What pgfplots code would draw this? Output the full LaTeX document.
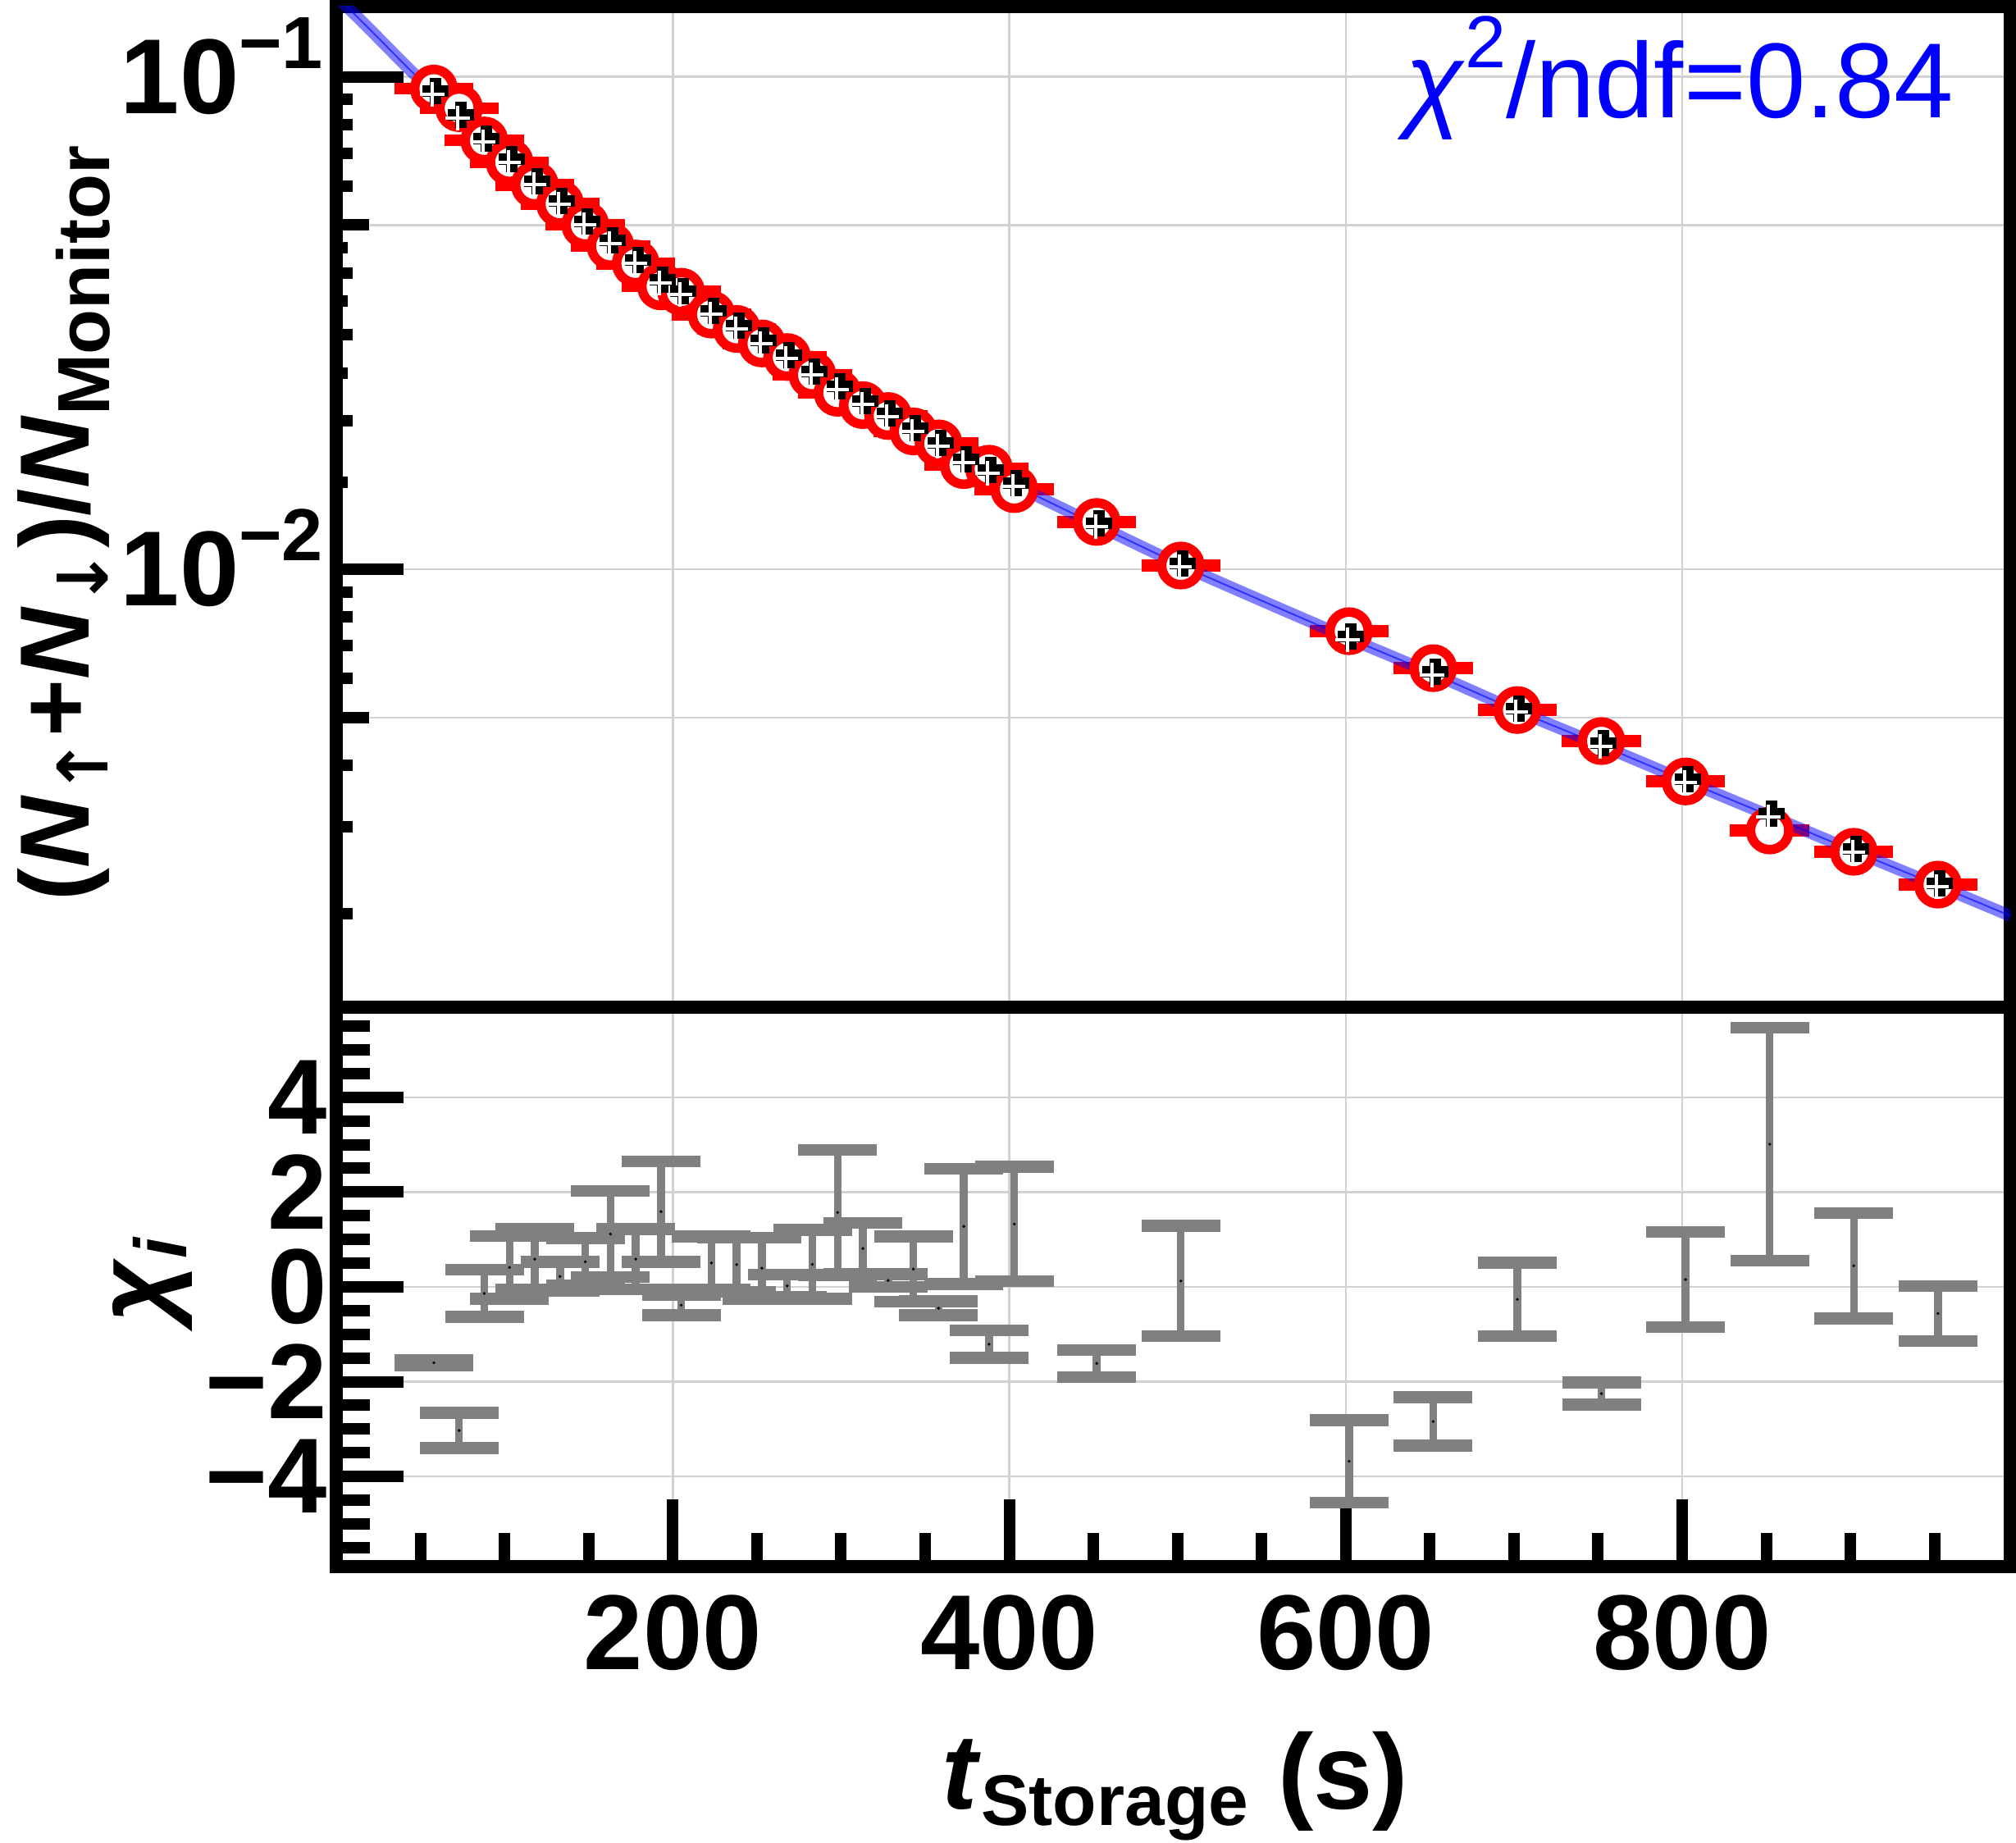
\documentclass[border=0pt]{standalone}
\usepackage{fontspec}
\setmainfont{Liberation Sans}
\newfontfamily\arrowfont{DejaVu Sans}
\usepackage{pgfplots}
\pgfplotsset{compat=1.18}
\usepackage{pgfplotstable}

\pgfplotstableread{
x c
58 0.09465
73 0.08638
88 0.07427
103 0.06707
118 0.06037
133 0.05523
148 0.05005
163 0.04534
178 0.04178
193 0.03754
205 0.03661
223 0.03291
238 0.03077
253 0.02875
268 0.02698
283 0.02483
298 0.02283
313 0.02155
328 0.02048
343 0.01906
358 0.01802
373 0.01628
388 0.01601
403 0.01455
452 0.01248
502 0.01018
602 0.00749
652 0.00630
702 0.00518
752 0.00448
802 0.00371
852 0.00295
902 0.00267
952 0.00229
}\circdata

\pgfplotstableread{
x f
58 0.09257
73 0.08284
88 0.07413
103 0.06745
118 0.06086
133 0.05540
148 0.05042
163 0.04605
178 0.04212
193 0.03837
205 0.03641
223 0.03314
238 0.03097
253 0.02891
268 0.02699
283 0.02500
298 0.02333
313 0.02179
328 0.02052
343 0.01916
358 0.01791
373 0.01657
388 0.01574
403 0.01483
452 0.01230
502 0.01019
602 0.00724
652 0.00614
702 0.00516
752 0.00439
802 0.00372
852 0.00316
902 0.00268
952 0.00228
}\crossdata

\pgfplotstableread{
x f
0 0.1459
20 0.1248
40 0.1064
58 0.09257
88 0.07413
118 0.06086
148 0.05042
178 0.04212
205 0.03641
238 0.03097
268 0.02699
298 0.02333
328 0.02052
358 0.01791
388 0.01574
403 0.01483
452 0.01230
502 0.01019
552 0.00858
602 0.00724
652 0.00614
702 0.00516
752 0.00439
802 0.00372
852 0.00316
902 0.00268
952 0.00228
995 0.00198
}\fitdata

\pgfplotstableread{
x c e
58 -1.6 0.05
73 -3.03 0.37
88 -0.1375 0.4975
103 0.41 0.66
118 0.585 0.635
133 0.22 0.31
148 0.53 0.50
163 1.115 0.905
178 0.585 0.635
193 1.5875 1.0625
205 -0.385 0.215
223 0.505 0.555
238 0.47 0.57
253 0.395 0.645
268 0.02 0.24
283 0.475 0.725
298 1.57 1.32
313 0.81 0.54
328 0.135 0.135
343 0.375 0.685
358 -0.45 0.15
373 1.275 1.215
388 -1.21 0.29
403 1.325 1.205
452 -1.615 0.285
502 0.125 1.165
602 -3.68 0.87
652 -2.84 0.51
702 -0.265 0.775
752 -2.25 0.23
802 0.155 1.005
852 3.01 2.46
902 0.445 1.115
952 -0.56 0.58
}\resdata

\newcommand{\ticklab}{\fontsize{26}{30}\selectfont\bfseries}
\newcommand{\suplab}[1]{10\smash{\raisebox{11pt}{\fontsize{18}{20}\selectfont\bfseries #1}}}

\begin{document}
\begin{tikzpicture}
\pgfplotsset{
  common/.style={
    scale only axis, width=408.2pt,
    xmin=0, xmax=995,
    axis line style={line width=3.2pt, black},
    tick style={line width=2.8pt, black},
    major tick length=16.4pt,
    tick align=inside,
    xtick={200,400,600,800},
    grid=major,
    major grid style={line width=0.5pt, black!18},
    xtick pos=bottom, ytick pos=left,
    tick label style={font=\ticklab},
  }
}
\begin{axis}[common, name=bot, at={(0pt,0pt)}, anchor=south west, height=136.4pt,
  ymin=-5.9, ymax=5.9,
  ytick={-4,-2,0,2,4}, yticklabels={−4,−2,0,2,4},
  minor xtick={50,100,150,250,300,350,450,500,550,650,700,750,850,900,950},
  minor ytick={-5.5,-5,-4.5,-3.5,-3,-2.5,-1.5,-1,-0.5,0.5,1,1.5,2.5,3,3.5,4.5,5,5.5},
  minor tick length=8.2pt,
  xticklabels={200,400,600,800},
  xticklabel style={anchor=north, inner sep=0pt, yshift=-6.8pt},
  yticklabel style={anchor=east, inner sep=0pt, xshift=-2pt},
]
\addplot[only marks, mark=*, mark size=0.1pt, mark options={draw=none, fill=none},
  error bars/.cd, y dir=both, y explicit, error mark=-,
  error bar style={line width=1.9pt, color=gray},
  error mark options={rotate=90, line width=2.9pt, mark size=9.6pt, color=gray}]
  table[x=x, y=c, y error=e] {\resdata};
\end{axis}

% medium ticks at 0.05 and 0.005 (left side only)
\begin{scope}
\clip (-20pt,136.4pt) rectangle (150pt,380.4pt);
\begin{axis}[scale only axis, width=408.2pt, height=244pt, at={(0pt,136.4pt)}, anchor=south west,
  xmin=0, xmax=995, ymode=log, ymin=0.001291, ymax=0.1389,
  axis line style={draw=none},
  xtick=\empty, ytick={0.005,0.05}, yticklabels={},
  ytick pos=left, tick align=inside,
  major tick length=8pt, tick style={line width=2.8pt, black},
]
\end{axis}
\end{scope}

\begin{axis}[common, name=top, at={(0pt,136.4pt)}, anchor=south west, height=244pt,
  ymode=log, ymin=0.001291, ymax=0.1389,
  xmajorticks=false, xticklabels={},
  ytick={0.01,0.1},
  yticklabels={\suplab{−2},\suplab{−1}},
  minor ytick={0.002,0.003,0.004,0.006,0.007,0.008,0.009,0.02,0.03,0.04,0.06,0.07,0.08,0.09},
  minor tick length=4pt,
  yticklabel style={anchor=east, inner sep=0pt, xshift=-3pt},
]
\addplot[forget plot, line width=0.5pt, black!18] coordinates {(20,0.05) (991,0.05)};
\addplot[forget plot, line width=0.5pt, black!18] coordinates {(20,0.005) (991,0.005)};
\addplot[only marks, mark=*, mark size=0.1pt, mark options={draw=none, fill=none},
  error bars/.cd, x dir=both, x fixed=23.5, error mark=none,
  error bar style={line width=2.9pt, color=red}]
  table[x=x, y=c] {\circdata};
\addplot[only marks, mark=*, mark size=4.67pt, mark options={draw=red, fill=white, line width=2.3pt}]
  table[x=x, y=c] {\circdata};
\addplot[only marks, mark=+, mark size=3.2pt, mark options={draw=black, line width=2.8pt, xshift=0.5pt, yshift=0.5pt}]
  table[x=x, y=f] {\crossdata};
\addplot[only marks, mark=+, mark size=3pt, mark options={draw=white, line width=0.8pt, xshift=-0.3pt, yshift=-0.3pt}]
  table[x=x, y=f] {\crossdata};
\addplot[blue, opacity=0.5, line width=2.9pt] table[x=x, y=f] {\fitdata};
\addplot[blue, opacity=0.6, line width=0.4pt] table[x=x, y=f] {\fitdata};
\end{axis}

\node[anchor=base east, inner sep=0pt, text=blue, font=\fontsize{26}{30}\selectfont] at (394.6pt,353.2pt)
  {\textit{χ}\raisebox{12.2pt}{\fontsize{18}{20}\selectfont 2}/ndf=0.84};

\node[rotate=90, anchor=base, inner sep=0pt, font=\fontsize{24}{28}\selectfont\bfseries] at (-60.2pt,254.4pt)
  {(\textit{N}\raisebox{-4.6pt}{\fontsize{17}{20}\selectfont\arrowfont ↑}+\textit{N}\raisebox{-4.6pt}{\fontsize{17}{20}\selectfont\arrowfont ↓})/\textit{N}\raisebox{-5pt}{\fontsize{18}{20}\selectfont Monitor}};

\node[rotate=90, anchor=base, inner sep=0pt, font=\fontsize{26}{30}\selectfont\bfseries] at (-40.4pt,70pt)
  {\textit{χ}\raisebox{-4pt}{\fontsize{18}{20}\selectfont\textit{i}}};

\node[anchor=base, inner sep=0pt, font=\fontsize{26}{30}\selectfont\bfseries] at (204.6pt,-59pt)
  {\textit{t}\raisebox{-4pt}{\fontsize{17.5}{20}\selectfont Storage} (s)};

\pgfresetboundingbox
\path[use as bounding box] (-82pt,-67.2pt) rectangle (409.6pt,382pt);
\end{tikzpicture}
\end{document}
